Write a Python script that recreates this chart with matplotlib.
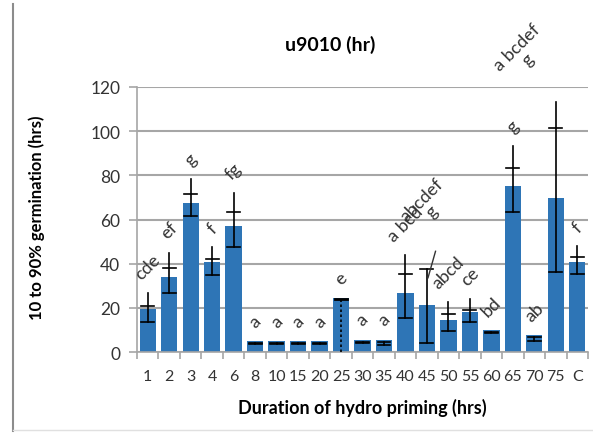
import matplotlib
matplotlib.use("Agg")
import matplotlib.pyplot as plt
from matplotlib.lines import Line2D
import numpy as np

categories = ['1', '2', '3', '4', '6', '8', '10', '15', '20', '25', '30', '35',
              '40', '45', '50', '55', '60', '65', '70', '75', 'C']
means = [19.5, 33.8, 67.4, 40.9, 57.1, 5.0, 5.0, 5.0, 5.0, 24.5, 5.6, 5.6,
         26.8, 21.5, 14.7, 18.0, 10.0, 75.2, 7.5, 69.8, 40.6]
err_high = [26.7, 45.0, 78.2, 47.4, 72.2, 4.2, 4.2, 4.2, 4.2, 23.8, 4.7, 4.7,
            43.9, 37.6, 22.6, 24.0, 9.2, 93.2, 6.8, 113.0, 48.1]
err_mark = [21.0, 37.9, 71.4, 42.1, 63.6, 4.0, 4.0, 4.0, 4.0, 23.8, 4.5, 4.5,
            35.2, 37.6, 17.1, 19.2, 9.0, 83.5, 6.8, 101.5, 43.0]
err_low = [13.6, 26.8, 61.4, 35.0, 47.4, 3.8, 3.8, 3.8, 3.8, 0.0, 4.3, 3.0,
           15.3, 4.2, 9.3, 13.5, 8.8, 63.6, 5.0, 36.1, 35.3]
letters = ['cde', 'ef', 'g', 'f', 'fg', 'a', 'a', 'a', 'a', 'e', 'a', 'a',
           'a bcd', 'abcdef\ng', 'abcd', 'ce', 'bd', 'g', 'ab', 'a bcdef\ng', 'f']

plt.rcParams['font.family'] = ['Lato', 'DejaVu Sans']

W, H = 593, 435
fig = plt.figure(figsize=(W / 100, H / 100), dpi=100)
AX_L, AX_R, AX_T, AX_B = 137, 588, 88, 353
ax = fig.add_axes([AX_L / W, 1 - AX_B / H, (AX_R - AX_L) / W, (AX_B - AX_T) / H])

x = np.arange(len(categories))
blue = '#2E75B6'
grid_c = '#A6A6A6'

ax.bar(x, means, width=0.76, color=blue, zorder=2)

capw = 0.3
for i in range(len(categories)):
    if i == 9:
        ax.plot([x[i], x[i]], [err_low[i], err_high[i]], color='black',
                lw=1.2, ls=(0, (1.5, 1.5)), zorder=3)
        ax.plot([x[i] - capw, x[i] + capw], [err_mark[i]] * 2, color='black',
                lw=2.0, zorder=3)
        continue
    ax.plot([x[i], x[i]], [err_low[i], err_high[i]], color='black',
            lw=1.2, zorder=3)
    ax.plot([x[i] - capw, x[i] + capw], [err_low[i]] * 2, color='black',
            lw=1.2, zorder=3)
    ax.plot([x[i] - capw, x[i] + capw], [err_mark[i]] * 2, color='black',
            lw=1.2, zorder=3)

# significance letters
n = len(categories)
for i, lab in enumerate(letters):
    top = max(means[i], err_high[i], err_mark[i])
    multi = '\n' in lab
    pad = 5 if not multi else 15
    ha = 'center'
    xpos = x[i]
    if multi and i >= n - 3:
        ha = 'right'
        xpos = x[i] - 0.05
        pad = 8
    ax.text(xpos, top + pad, lab, rotation=45, ha=ha, va='bottom',
            fontsize=13, color='#333333', multialignment='center',
            linespacing=1.0, zorder=4, clip_on=False)

# leader line for the moved label of bar 45
i45 = categories.index('45')
ax.plot([x[i45] + 0.05, x[i45] + 0.4], [err_high[i45] - 4, err_high[i45] + 8],
        color='#333333', lw=1.0, zorder=4)

ax.set_xlim(-0.5, n - 0.5)
ax.set_ylim(0, 120)
ax.set_yticks(np.arange(0, 121, 20))
ax.yaxis.grid(True, color=grid_c, lw=1.5, zorder=0)
ax.set_axisbelow(True)

ax.set_xticks(x)
ax.set_xticklabels(categories, fontsize=11.5, color='#333333')
ax.set_xticks(np.arange(-0.5, n, 1.0), minor=True)
ax.tick_params(axis='x', which='major', length=0, pad=12)
ax.tick_params(axis='x', which='minor', length=5, color=grid_c, width=1.2)
ax.tick_params(axis='y', length=6, color=grid_c, width=1.2, pad=6,
               labelsize=12.5, labelcolor='#333333')

for s in ['top', 'right']:
    ax.spines[s].set_visible(False)
for s in ['left', 'bottom']:
    ax.spines[s].set_color(grid_c)
    ax.spines[s].set_linewidth(1.2)

ax.set_ylabel('10 to 90% germination (hrs)', fontsize=12, fontweight='bold')
ax.yaxis.set_label_coords(-(AX_L - 45) / (AX_R - AX_L), (AX_B - 218) / (AX_B - AX_T))
ax.set_xlabel('Duration of hydro priming (hrs)', fontsize=13,
              fontweight='bold')
ax.xaxis.set_label_coords(0.5, -(408 - AX_B) / (AX_B - AX_T))
ax.xaxis.label.set_va('center')
fig.text(330 / W, 1 - 45 / H, 'u9010 (hr)', ha='center', va='center',
         fontsize=14, fontweight='bold')

fig.add_artist(Line2D([13 / W, 13 / W], [1 - 432 / H, 1 - 5 / H],
                      color='#8C8C8C', lw=1.5))
fig.add_artist(Line2D([13 / W, 1.0], [1 - 431 / H, 1 - 431 / H],
                      color='#E0E0E0', lw=1.0))

fig.savefig('out.png', dpi=100)
